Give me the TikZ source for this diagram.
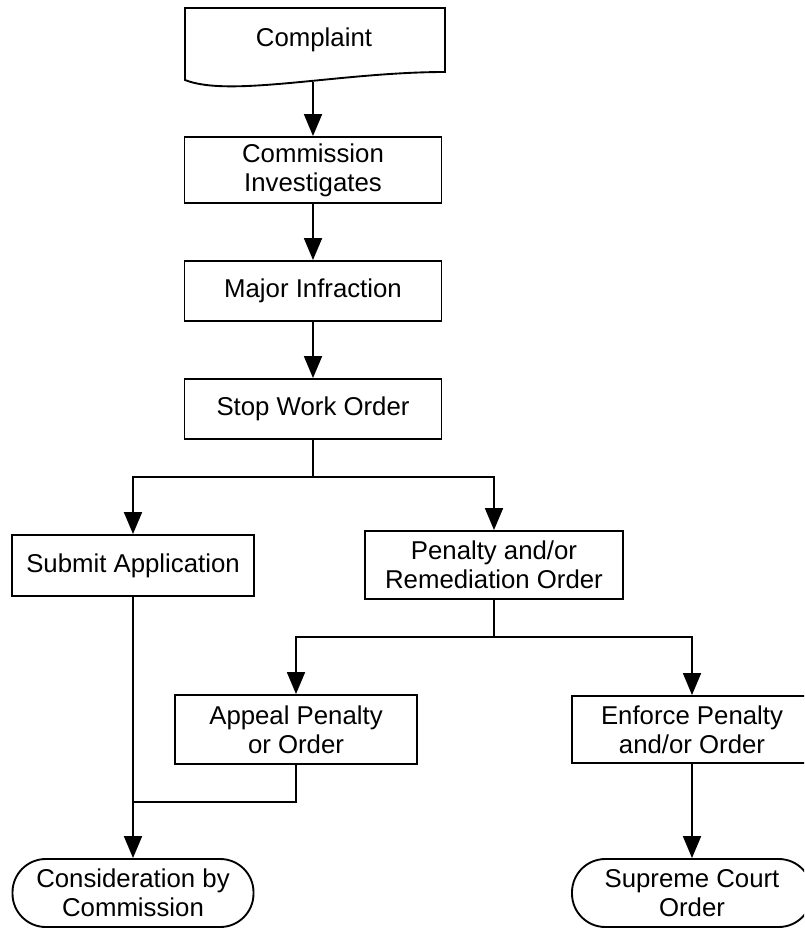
\documentclass[tikz,border=0pt]{standalone}
\usepackage{fontspec}
\setmainfont{Liberation Sans}
\usepackage{tikz}
\usetikzlibrary{arrows.meta}

\begin{document}
\begin{tikzpicture}[
        x=0.03cm, y=-0.03cm, % one unit = one pixel of the layout
        font=\fontsize{22}{25}\selectfont, % Size of the labels
        box/.style={draw, rectangle, line width=1.6pt, align=center, inner sep=0pt}, % Process boxes
        terminal/.style={box, rounded corners=1cm}, % End points
        flow/.style={-{Triangle[length=0.66cm, width=0.54cm]}, line width=1.6pt}, % Connectors with arrow
        link/.style={line width=1.6pt}, % Connectors without arrow
    ]
        \useasboundingbox (0,0) rectangle (804,928);
        \clip (0,0) rectangle (804,928);

        % --- Complaint (document shape) ---
        \draw[line width=1.6pt] (185,8) -- (445,8) -- (445,72)
            .. controls (340,72) and (230,98) .. (185,80) -- cycle;
        \node (cmp) at (314,40) {Complaint};
        \coordinate (cmpb) at (313,82); % point on the wavy edge

        % --- Main column ---
        \node[box, minimum width=7.71cm, minimum height=1.98cm] (inv) at (313,170) {Commission\\Investigates};
        \node[box, minimum width=7.71cm, minimum height=1.8cm] (maj) at (313,291) {Major Infraction};
        \node[box, minimum width=7.71cm, minimum height=1.8cm] (stp) at (313,409) {Stop Work Order};

        % --- First split ---
        \node[box, minimum width=7.26cm, minimum height=1.83cm] (sub) at (133,565.5) {Submit Application};
        \node[box, minimum width=7.74cm, minimum height=2.04cm] (pen) at (494,565) {Penalty and/or\\Remediation Order};

        % --- Second split ---
        \node[box, minimum width=7.26cm, minimum height=2.07cm] (app) at (296,729.5) {Appeal Penalty\\or Order};
        \node[box, minimum width=7.2cm, minimum height=2.01cm] (enf) at (692,729.5) {Enforce Penalty\\and/or Order};

        % --- End points ---
        \node[terminal, minimum width=7.23cm, minimum height=2.04cm] (con) at (133,893) {Consideration by\\Commission};
        \node[terminal, minimum width=7.2cm, minimum height=2.04cm] (sup) at (692,893) {Supreme Court\\Order};

        % --- Connectors ---
        \coordinate (split) at (313,477);
        \coordinate (split2) at (494,637);
        \coordinate (merge) at (133,802);

        \draw[flow] (cmpb) -- (inv);
        \draw[flow] (inv) -- (maj);
        \draw[flow] (maj) -- (stp);
        \draw[link] (stp) -- (split);
        \draw[flow] (split) -| (sub);
        \draw[flow] (split) -| (pen);
        \draw[link] (pen) -- (split2);
        \draw[flow] (split2) -| (app);
        \draw[flow] (split2) -| (enf);
        \draw[flow] (sub) -- (con);
        \draw[link] (app) |- (merge);
        \draw[flow] (enf) -- (sup);

    \end{tikzpicture}
\end{document}
